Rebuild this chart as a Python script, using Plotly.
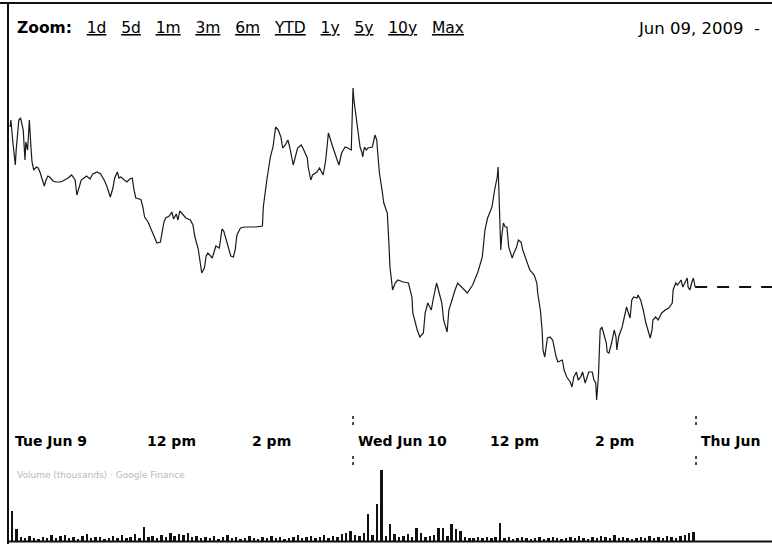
import plotly.graph_objects as go

# ---- price data: minutes after the 9:30 open, price ----
day1_minutes = [0, 1, 3, 6, 7, 8, 10, 12, 15, 16,
                17, 18, 20, 22, 23, 24, 25, 27, 30, 32,
                34, 36, 39, 41, 43, 45, 49, 52, 57, 60,
                66, 70, 74, 76, 78, 81, 84, 87, 91, 94,
                99, 103, 107, 110, 114, 117, 119, 122, 124, 126,
                130, 133, 136, 139, 141, 143, 147, 149, 151, 153,
                157, 160, 164, 167, 171, 173, 175, 177, 181, 184,
                186, 189, 191, 193, 197, 200, 205, 208, 210, 214,
                216, 218, 221, 223, 225, 227, 230, 232, 234, 238,
                241, 243, 246, 248, 251, 254, 256, 258, 262, 267,
                273, 279, 287, 288, 292, 296, 299, 302, 305, 308,
                310, 313, 316, 318, 322, 325, 327, 331, 333, 338,
                339, 342, 344, 349, 352, 356, 359, 362, 365, 367,
                372, 374, 377, 381, 384, 388]
day1_prices = [24.61, 24.68, 24.48, 24.23, 24.38, 24.50, 24.68, 24.70, 24.58, 24.43,
               24.28, 24.46, 24.38, 24.68, 24.48, 24.38, 24.26, 24.18, 24.21, 24.20,
               24.16, 24.10, 24.02, 24.08, 24.12, 24.11, 24.07, 24.06, 24.06, 24.07,
               24.10, 24.13, 24.08, 23.93, 24.00, 24.08, 24.10, 24.12, 24.09, 24.14,
               24.16, 24.14, 24.08, 24.02, 23.91, 24.00, 24.10, 24.16, 24.10, 24.11,
               24.08, 24.06, 24.09, 24.10, 23.98, 23.90, 23.89, 23.88, 23.81, 23.71,
               23.66, 23.60, 23.52, 23.45, 23.46, 23.55, 23.66, 23.70, 23.72, 23.76,
               23.69, 23.74, 23.68, 23.77, 23.73, 23.70, 23.68, 23.63, 23.52, 23.39,
               23.27, 23.15, 23.20, 23.32, 23.35, 23.33, 23.30, 23.36, 23.42, 23.40,
               23.59, 23.57, 23.48, 23.40, 23.32, 23.31, 23.38, 23.53, 23.60, 23.61,
               23.61, 23.61, 23.62, 23.81, 24.08, 24.31, 24.41, 24.61, 24.58, 24.51,
               24.40, 24.43, 24.48, 24.41, 24.23, 24.33, 24.40, 24.43, 24.40, 24.30,
               24.21, 24.08, 24.13, 24.16, 24.20, 24.13, 24.28, 24.55, 24.46, 24.41,
               24.28, 24.23, 24.35, 24.41, 24.40, 24.38]

day2_minutes = [0, 1, 4, 6, 8, 10, 11, 13, 15, 17,
                22, 25, 27, 28, 30, 33, 35, 39, 40, 41,
                42, 44, 45, 48, 51, 57, 63, 67, 68, 73,
                76, 80, 82, 85, 89, 91, 95, 98, 101, 103,
                107, 109, 113, 116, 119, 124, 130, 136, 142, 147,
                150, 153, 158, 161, 164, 165, 166, 167, 168, 169,
                171, 173, 175, 177, 181, 183, 186, 188, 191, 193,
                198, 201, 206, 209, 210, 213, 215, 216, 218, 221,
                224, 227, 231, 233, 238, 240, 243, 247, 249, 251,
                254, 256, 259, 261, 264, 266, 268, 272, 274, 276,
                277, 279, 280, 281, 283, 285, 288, 289, 291, 294,
                297, 299, 300, 302, 306, 311, 315, 317, 319, 323,
                324, 327, 330, 333, 335, 338, 340, 341, 344, 347,
                351, 355, 359, 363, 364, 367, 369, 373, 375, 377,
                380, 381, 383, 385, 387, 389]
day2_prices = [25.00, 24.88, 24.68, 24.51, 24.41, 24.36, 24.31, 24.41, 24.38, 24.40,
               24.41, 24.53, 24.48, 24.36, 24.15, 23.98, 23.85, 23.75, 23.61, 23.41,
               23.21, 23.08, 22.98, 23.05, 23.08, 23.06, 23.05, 22.91, 22.75, 22.58,
               22.51, 22.55, 22.75, 22.85, 22.78, 22.88, 23.05, 22.95, 22.85, 22.68,
               22.56, 22.78, 22.91, 22.98, 23.05, 23.00, 22.95, 23.03, 23.16, 23.31,
               23.58, 23.70, 23.81, 23.98, 24.11, 24.21, 23.98, 23.58, 23.38, 23.51,
               23.65, 23.61, 23.61, 23.41, 23.30, 23.35, 23.41, 23.48, 23.46, 23.38,
               23.25, 23.18, 23.13, 23.05, 22.95, 22.78, 22.58, 22.38, 22.31, 22.50,
               22.51, 22.48, 22.31, 22.26, 22.28, 22.18, 22.11, 22.06, 22.01, 22.11,
               22.16, 22.08, 22.11, 22.16, 22.05, 22.11, 22.16, 22.16, 22.08, 22.05,
               21.88, 22.11, 22.38, 22.58, 22.61, 22.55, 22.45, 22.36, 22.35, 22.45,
               22.58, 22.51, 22.38, 22.51, 22.61, 22.81, 22.70, 22.88, 22.91, 22.90,
               22.93, 22.88, 22.78, 22.65, 22.58, 22.50, 22.58, 22.68, 22.71, 22.68,
               22.75, 22.78, 22.80, 22.85, 22.98, 23.05, 23.03, 23.08, 23.01, 23.05,
               23.10, 23.01, 22.98, 23.05, 23.10, 23.01]

# ---- volume (thousands of shares) per 5-minute bucket ----
day1_volume = [600, 240, 80, 60, 100, 60, 40, 80, 60, 120,
               60, 100, 120, 60, 80, 40, 100, 140, 60, 80,
               80, 40, 60, 100, 60, 120, 60, 80, 140, 60,
               280, 80, 100, 60, 120, 80, 160, 100, 140, 120,
               160, 80, 100, 60, 80, 60, 100, 40, 80, 120,
               60, 80, 40, 60, 100, 60, 40, 80, 60, 100,
               60, 80, 40, 60, 80, 120, 60, 80, 100, 60,
               80, 120, 60, 100, 80, 140, 160, 200]
day2_volume = [120, 100, 160, 540, 120, 740, 1420, 100, 340, 140,
               80, 100, 140, 80, 260, 160, 80, 100, 120, 260,
               260, 100, 340, 240, 200, 80, 60, 60, 80, 60,
               80, 60, 80, 360, 60, 80, 40, 60, 80, 60,
               40, 60, 80, 40, 60, 80, 60, 40, 60, 80,
               60, 100, 60, 40, 80, 60, 100, 80, 60, 120,
               60, 80, 60, 40, 60, 80, 60, 100, 60, 80,
               60, 100, 80, 60, 100, 120, 160, 180]

tick_minutes = [0, 150, 270, 390, 540, 660, 780]
tick_labels = ["Tue Jun 9", "12 pm", "2 pm", "Wed Jun 10", "12 pm", "2 pm", "Thu Jun"]
day_breaks = [390, 780]
zoom_links = ["1d", "5d", "1m", "3m", "6m", "YTD", "1y", "5y", "10y", "Max"]
date_label = "Jun 09, 2009"

SESSION = 390
n1 = min(len(day1_minutes), len(day1_prices))
n2 = min(len(day2_minutes), len(day2_prices))
xs = day1_minutes[:n1] + [SESSION + m for m in day2_minutes[:n2]]
ys = day1_prices[:n1] + day2_prices[:n2]

vx = [5 * i + 2.5 for i in range(len(day1_volume))] + \
     [SESSION + 5 * i + 2.5 for i in range(len(day2_volume))]
vy = day1_volume + day2_volume

W, H = 772, 544
XR = [-11.4, 866.4]
FONT = "DejaVu Sans"
NB = "\u00a0"

def py(p):
    return 1 - p / H

fig = go.Figure()
fig.add_trace(go.Scatter(x=xs, y=ys, mode="lines",
                         line=dict(color="#1a1a1a", width=1.2),
                         xaxis="x", yaxis="y", hoverinfo="skip"))
fig.add_trace(go.Bar(x=vx, y=vy, width=2.2, marker=dict(color="#111", line=dict(width=0)),
                     xaxis="x2", yaxis="y2", hoverinfo="skip"))

# last price continuation (dashed)
last = ys[-1]
shapes = [dict(type="line", xref="x", yref="y", x0=xs[-1], x1=XR[1], y0=last, y1=last,
               line=dict(color="#111", width=2, dash="12px,10px"))]
# frame
shapes += [
    dict(type="line", xref="paper", yref="paper", x0=0, x1=1, y0=py(3), y1=py(3),
         line=dict(color="#111", width=2)),
    dict(type="line", xref="paper", yref="paper", x0=8 / W, x1=8 / W, y0=0, y1=py(3),
         line=dict(color="#111", width=2)),
    dict(type="line", xref="paper", yref="paper", x0=8 / W, x1=1, y0=py(541.5), y1=py(541.5),
         line=dict(color="#111", width=2)),
]
for b in day_breaks:
    for a, c in [(415, 425), (456, 465)]:
        shapes.append(dict(type="line", xref="x", yref="paper", x0=b, x1=b,
                           y0=py(c), y1=py(a), line=dict(color="#111", width=1.5, dash="dot")))

annotations = []
for t, lab in zip(tick_minutes, tick_labels):
    annotations.append(dict(x=t, xref="x", y=py(441), yref="paper", text="<b>" + lab + "</b>",
                            showarrow=False, xanchor="left", yanchor="middle", xshift=3,
                            font=dict(family=FONT, size=14, color="#000")))

gap = NB * 3
zoom_text = "<b>Zoom:</b>" + gap + gap.join("<u>" + z + "</u>" for z in zoom_links)
annotations.append(dict(x=15 / W, y=py(28), xref="paper", yref="paper", text=zoom_text,
                        showarrow=False, xanchor="left", yanchor="middle",
                        font=dict(family=FONT, size=15.5, color="#000")))
annotations.append(dict(x=762 / W, y=py(28), xref="paper", yref="paper",
                        text=date_label + NB * 2 + "-",
                        showarrow=False, xanchor="right", yanchor="middle",
                        font=dict(family=FONT, size=16.5, color="#000")))
annotations.append(dict(x=15 / W, y=py(475), xref="paper", yref="paper",
                        text="Volume (thousands) · Google Finance",
                        showarrow=False, xanchor="left", yanchor="middle",
                        font=dict(family=FONT, size=9, color="#b8b8b8")))

fig.update_layout(
    width=W, height=H, autosize=False,
    margin=dict(l=0, r=0, t=0, b=0),
    paper_bgcolor="white", plot_bgcolor="white",
    showlegend=False, bargap=0,
    xaxis=dict(domain=[0, 1], range=XR, visible=False, anchor="y"),
    xaxis2=dict(domain=[0, 1], range=XR, visible=False, anchor="y2", matches="x"),
    yaxis=dict(domain=[py(410), py(60)], range=[21.78, 25.28], visible=False, anchor="x"),
    yaxis2=dict(domain=[py(541), py(460)], range=[0, 1620], visible=False, anchor="x2"),
    shapes=shapes, annotations=annotations,
)

fig.write_html("out.html", config={"displayModeBar": False},
               post_script="document.body.style.margin='0';")
